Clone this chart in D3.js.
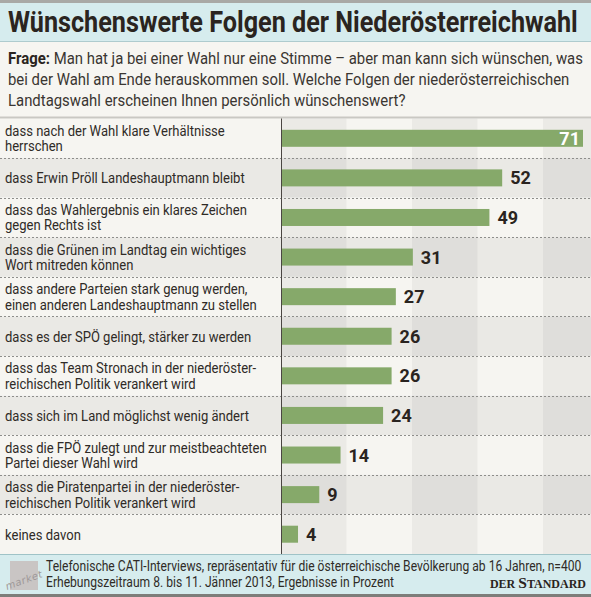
<!DOCTYPE html>
<html>
<head>
<meta charset="utf-8">
<script src="https://cdn.jsdelivr.net/npm/d3@7"></script>
<style>
  html, body { margin: 0; padding: 0; background: #fff; }
  svg { display: block; }
  .cond { font-family: Roboto, "Noto Sans", sans-serif; }
</style>
</head>
<body>
<div id="chart"></div>
<script>
(function () {
    // chart data
    var title = "Wünschenswerte Folgen der Niederösterreichwahl";
    var questionLines = [
        "Man hat ja bei einer Wahl nur eine Stimme – aber man kann sich wünschen, was",
        "bei der Wahl am Ende herauskommen soll. Welche Folgen der niederösterreichischen",
        "Landtagswahl erscheinen Ihnen persönlich wünschenswert?"
    ];
    var categories = [
        ["dass nach der Wahl klare Verhältnisse", "herrschen"],
        ["dass Erwin Pröll Landeshauptmann bleibt"],
        ["dass das Wahlergebnis ein klares Zeichen", "gegen Rechts ist"],
        ["dass die Grünen im Landtag ein wichtiges", "Wort mitreden können"],
        ["dass andere Parteien stark genug werden,", "einen anderen Landeshauptmann zu stellen"],
        ["dass es der SPÖ gelingt, stärker zu werden"],
        ["dass das Team Stronach in der niederöster-", "reichischen Politik verankert wird"],
        ["dass sich im Land möglichst wenig ändert"],
        ["dass die FPÖ zulegt und zur meistbeachteten", "Partei dieser Wahl wird"],
        ["dass die Piratenpartei in der niederöster-", "reichischen Politik verankert wird"],
        ["keines davon"]
    ];
    var values = [71, 52, 49, 31, 27, 26, 26, 24, 14, 9, 4];
    var footLines = [
        "Telefonische CATI-Interviews, repräsentativ für die österreichische Bevölkerung ab 16 Jahren, n=400",
        "Erhebungszeitraum 8. bis 11. Jänner 2013, Ergebnisse in Prozent"
    ];

    var width = 591, height = 597;
    var plotTop = 118.5, plotBottom = 554, axisX = 281;
    var stripeW = 65.5;

    var svg = d3.select('#chart').append('svg')
        .attr('width', width)
        .attr('height', height);

    // no condensed font installed, so squeeze text horizontally:
    // measure one sample line and return the factor that gives it the wanted width
    function squeeze(sample, size, weight, wanted) {
        var t = svg.append('text').attr('class', 'cond')
            .attr('font-size', size).attr('font-weight', weight)
            .text(sample);
        var w = t.node().getComputedTextLength();
        t.remove();
        return Math.min(1, wanted / w);
    }

    function putText(parent, x, yy, s) {
        return parent.append('text')
            .attr('transform', 'translate(' + x + ',' + yy + ') scale(' + s + ',1)');
    }

    // header
    svg.append('rect').attr('x', 0).attr('y', 0).attr('width', width).attr('height', 3).attr('fill', '#a9a9a6');
    svg.append('rect').attr('x', 0).attr('y', 3).attr('width', width).attr('height', 38).attr('fill', '#d6ecee');
    svg.append('rect').attr('x', 0).attr('y', 41).attr('width', width).attr('height', 1).attr('fill', '#aecbce');
    var sTitle = squeeze(title, 29, 'bold', 570);
    putText(svg, 8, 32, sTitle).attr('class', 'cond')
        .attr('font-size', 29).attr('font-weight', 'bold')
        .attr('fill', '#2a2420')
        .text(title);

    // question
    svg.append('rect').attr('x', 0).attr('y', 42).attr('width', width).attr('height', plotTop - 42).attr('fill', '#f6f5f1');
    var sQ = squeeze('Frage: ' + questionLines[0], 16.5, 'normal', 574);
    var q = svg.append('g').attr('class', 'cond').attr('font-size', 16.5).attr('fill', '#3a3632');
    questionLines.forEach(function (line, i) {
        var t = putText(q, 8, 64 + i * 21, sQ);
        if (i === 0) {
            t.append('tspan').attr('font-weight', 'bold').attr('fill', '#2a2420').text('Frage: ');
        }
        t.append('tspan').text(line);
    });

    // scales
    var y = d3.scaleBand()
        .domain(d3.range(values.length))
        .range([plotTop, plotBottom])
        .paddingInner(0).paddingOuter(0);

    var x = d3.scaleLinear()
        .domain([0, 71])
        .range([axisX, 583]);

    var barH = 17;

    // row backgrounds
    svg.append('g').selectAll('rect')
        .data(values)
        .enter().append('rect')
        .attr('x', 0)
        .attr('y', function (d, i) { return y(i); })
        .attr('width', width)
        .attr('height', y.bandwidth())
        .attr('fill', function (d, i) { return i % 2 === 0 ? '#f6f5f1' : '#eae9e5'; });

    // column stripes in the bar area
    svg.append('g').selectAll('rect')
        .data(d3.range(0, 5, 2))
        .enter().append('rect')
        .attr('x', function (k) { return axisX + k * stripeW; })
        .attr('y', plotTop)
        .attr('width', stripeW)
        .attr('height', plotBottom - plotTop)
        .attr('fill', 'rgba(0,0,0,0.045)');

    // dashed row separators
    svg.append('g').selectAll('line')
        .data(d3.range(1, values.length))
        .enter().append('line')
        .attr('x1', 0).attr('x2', width)
        .attr('y1', function (i) { return Math.round(y(i)) + 0.5; })
        .attr('y2', function (i) { return Math.round(y(i)) + 0.5; })
        .attr('stroke', '#8e8e8b')
        .attr('stroke-width', 1)
        .attr('stroke-dasharray', '2,2');

    // top line of the plot
    svg.append('rect').attr('x', 0).attr('y', plotTop - 2).attr('width', width).attr('height', 2).attr('fill', '#c9c8c3');

    // bars
    svg.append('g').selectAll('rect')
        .data(values)
        .enter().append('rect')
        .attr('x', x(0))
        .attr('y', function (d, i) { return y(i) + y.bandwidth() / 2 - barH / 2; })
        .attr('width', function (d) { return x(d) - x(0); })
        .attr('height', barH)
        .attr('fill', '#86a96a');

    // axis line
    svg.append('line')
        .attr('x1', axisX + 0.5).attr('x2', axisX + 0.5)
        .attr('y1', plotTop).attr('y2', plotBottom)
        .attr('stroke', '#4a4642').attr('stroke-width', 1);

    // value labels, the biggest one sits inside its bar
    var maxV = d3.max(values);
    svg.append('g').attr('class', 'cond').selectAll('text')
        .data(values)
        .enter().append('text')
        .attr('x', function (d) { return d === maxV ? x(d) - 3 : x(d) + 8; })
        .attr('y', function (d, i) { return y(i) + y.bandwidth() / 2 + 6.5; })
        .attr('text-anchor', function (d) { return d === maxV ? 'end' : 'start'; })
        .attr('font-size', 18).attr('font-weight', 'bold')
        .attr('fill', function (d) { return d === maxV ? '#ffffff' : '#2a2420'; })
        .text(function (d) { return d; });

    // category labels
    var sL = squeeze(categories[0][0], 14.5, 'normal', 220);
    var labels = svg.append('g').attr('class', 'cond').attr('font-size', 14.5).attr('fill', '#2f2b27');
    categories.forEach(function (lines, i) {
        var c = y(i) + y.bandwidth() / 2;
        lines.forEach(function (line, j) {
            var base = lines.length === 1 ? c + 5.5 : c - 2.5 + j * 15.5;
            putText(labels, 5, base, sL).text(line);
        });
    });

    // footer
    svg.append('rect').attr('x', 0).attr('y', plotBottom).attr('width', width).attr('height', height - plotBottom).attr('fill', '#d6ecee');
    svg.append('rect').attr('x', 0).attr('y', plotBottom).attr('width', width).attr('height', 1).attr('fill', '#9fc3c7');
    svg.append('rect').attr('x', 0).attr('y', 594).attr('width', width).attr('height', 3).attr('fill', '#7d7d7a');

    svg.append('rect').attr('x', 10).attr('y', 561).attr('width', 28).attr('height', 29).attr('fill', '#c9c5c4');
    svg.append('text')
        .attr('transform', 'translate(7,590) rotate(-20)')
        .attr('font-family', 'DejaVu Sans, sans-serif')
        .attr('font-style', 'italic')
        .attr('font-size', 10)
        .attr('letter-spacing', 0.5)
        .attr('fill', '#9e9898')
        .text('market');

    var sF = squeeze(footLines[0], 14.5, 'normal', 536);
    var f = svg.append('g').attr('class', 'cond').attr('font-size', 14.5).attr('fill', '#2f2b27');
    footLines.forEach(function (line, i) {
        putText(f, 46, 571 + i * 16, sF).text(line);
    });

    var brand = svg.append('text')
        .attr('x', 586).attr('y', 588)
        .attr('text-anchor', 'end')
        .attr('font-family', '"Liberation Serif", "DejaVu Serif", serif')
        .attr('font-weight', 'bold')
        .attr('fill', '#2a2420');
    brand.append('tspan').attr('font-size', 12).text('DER ');
    brand.append('tspan').attr('font-size', 15.5).text('S');
    brand.append('tspan').attr('font-size', 12).text('TANDARD');
}());
</script>
</body>
</html>
